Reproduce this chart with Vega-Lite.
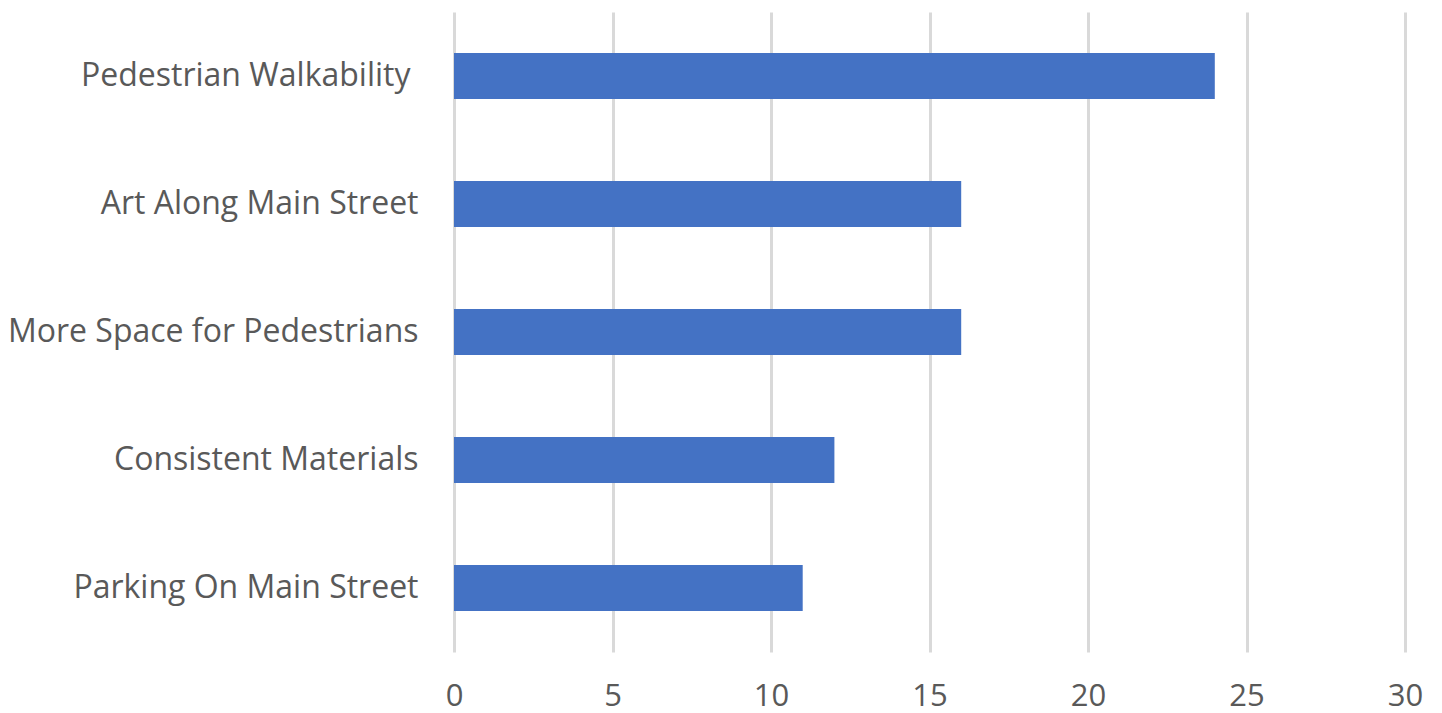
{
  "$schema": "https://vega.github.io/schema/vega-lite/v6.json",
  "width": 951,
  "height": 640,
  "autosize": "none",
  "padding": {"left": 454, "top": 12, "right": 37, "bottom": 61},
  "background": "white",
  "data": {
    "values": [
      {"category": "Pedestrian Walkability", "value": 24},
      {"category": "Art Along Main Street", "value": 16},
      {"category": "More Space for Pedestrians", "value": 16},
      {"category": "Consistent Materials", "value": 12},
      {"category": "Parking On Main Street", "value": 11}
    ]
  },
  "config": {
    "view": {"stroke": null},
    "font": "Open Sans"
  },
  "mark": {"type": "bar", "color": "#4472C4"},
  "encoding": {
    "y": {
      "field": "category",
      "type": "nominal",
      "sort": null,
      "scale": {"paddingInner": 0.64, "paddingOuter": 0.32},
      "axis": {
        "title": null,
        "domain": false,
        "ticks": false,
        "grid": false,
        "labelFont": "Open Sans",
        "labelFontSize": 32,
        "labelColor": "#595959",
        "labelPadding": {"condition": {"test": "datum.value === 'Pedestrian Walkability'", "value": 44}, "value": 36},
        "labelLimit": 0
      }
    },
    "x": {
      "field": "value",
      "type": "quantitative",
      "scale": {"domain": [0, 30], "nice": false},
      "axis": {
        "title": null,
        "values": [0, 5, 10, 15, 20, 25, 30],
        "domain": false,
        "ticks": false,
        "grid": true,
        "gridColor": "#D9D9D9",
        "gridWidth": 3,
        "labelFont": "Open Sans",
        "labelFontSize": 31,
        "labelColor": "#595959",
        "labelPadding": 29,
        "labelFlush": false
      }
    }
  }
}
